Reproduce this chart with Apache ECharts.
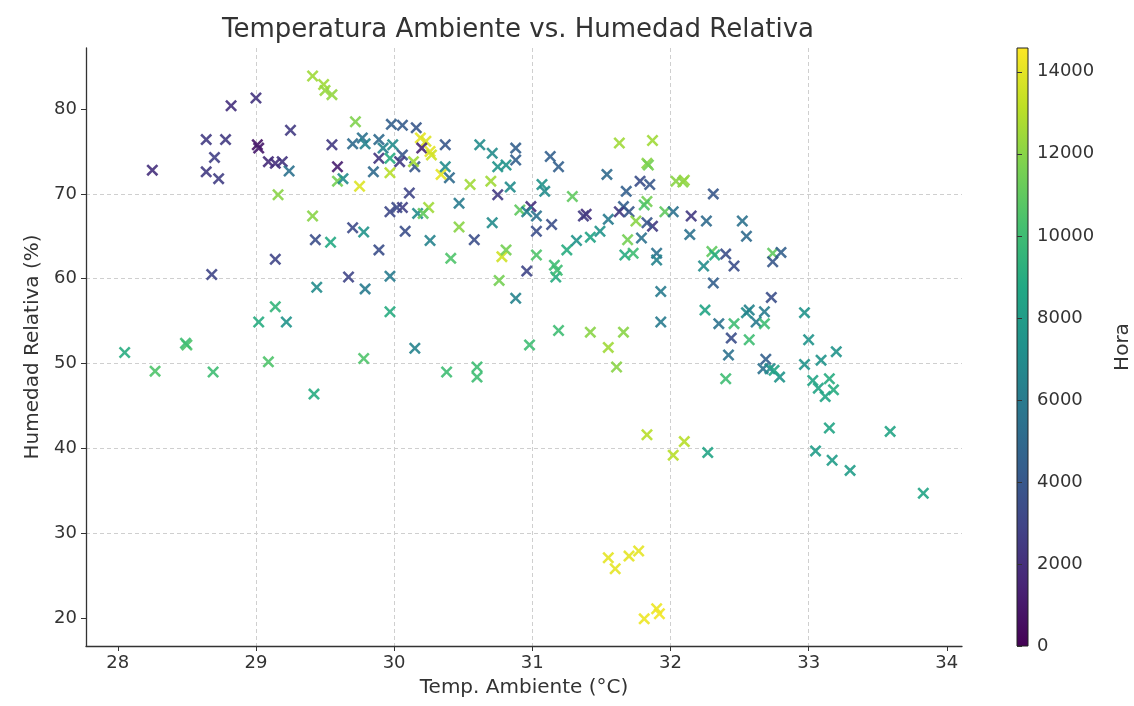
<!DOCTYPE html>
<html>
<head>
<meta charset="utf-8">
<script src="https://cdn.jsdelivr.net/npm/echarts@6/dist/echarts.min.js"></script>
<style>html,body{margin:0;padding:0;background:#fff}#c{width:1134px;height:706px}</style>
</head>
<body>
<div id="c"></div>
<script>
// Temperatura ambiente (°C)
const temp = [
28.05,28.27,28.50,28.49,28.69,28.68,29.02,29.14,29.22,29.09,29.42,29.44,29.67,29.79,29.78,29.14,
28.25,28.64,28.78,28.70,28.64,28.73,28.82,29.00,29.01,29.02,29.09,29.14,29.19,29.25,29.24,29.16,
29.41,29.49,29.50,29.55,29.72,29.55,29.70,29.77,29.79,29.89,29.89,29.59,29.59,29.63,29.75,29.85,
29.41,29.43,29.54,29.70,29.78,29.89,
29.98,30.06,30.16,29.92,29.99,30.19,30.23,30.20,30.26,30.27,30.37,30.06,30.04,29.97,29.97,30.15,
30.14,30.34,30.37,30.40,30.55,30.62,30.71,30.75,30.81,30.88,30.88,30.70,30.84,30.75,30.11,29.97,
30.02,30.06,30.17,30.25,30.21,30.47,30.08,30.26,30.47,30.58,30.71,30.41,30.78,30.81,30.91,30.99,
30.96,31.03,31.03,31.14,31.07,31.09,31.13,31.19,31.29,30.96,31.03,31.16,31.25,31.32,31.39,31.37,
31.42,31.49,31.54,31.55,31.63,31.87,31.83,31.84,31.68,31.78,31.85,31.66,31.63,31.70,31.83,31.81,
31.75,31.87,31.83,31.96,32.02,32.04,31.69,31.79,31.67,31.73,31.90,31.90,
32.09,32.10,32.31,32.15,32.26,32.52,32.14,32.55,32.30,32.32,32.40,32.74,32.80,32.74,32.24,32.46,
32.31,32.73,32.25,32.35,32.46,32.55,32.57,32.62,32.68,32.68,32.44,32.57,32.42,32.40,32.69,32.67,
32.72,32.79,32.75,32.97,33.00,32.97,33.09,33.20,33.03,33.07,33.15,33.18,33.12,33.15,33.59,32.27,
33.05,33.17,33.30,33.83,
32.02,32.10,31.83,31.55,31.60,31.70,31.77,31.81,31.90,31.92,
29.97,29.97,30.15,30.38,30.60,30.60,30.76,30.88,31.17,31.19,30.98,31.42,31.66,31.55,31.61,31.93,
31.93,31.18
];
// Humedad relativa (%)
const humedad = [
51.3,49.1,52.2,52.4,49.0,60.5,54.9,56.7,54.9,50.2,46.4,59.0,60.2,58.8,50.6,62.3,
72.8,76.4,76.4,74.3,72.6,71.8,80.4,81.3,75.8,75.4,73.8,73.6,73.8,77.5,72.7,69.9,
83.9,82.9,82.2,81.7,78.5,75.8,75.9,76.6,75.9,76.4,74.2,73.2,71.5,71.8,70.9,72.6,
67.4,64.6,64.3,66.0,65.5,63.4,
78.2,78.1,77.8,75.4,75.8,76.6,76.2,75.4,75.0,74.6,75.8,74.6,73.8,74.2,72.5,73.2,
73.8,72.3,73.2,71.9,71.1,75.8,74.8,73.2,73.4,75.4,74.0,71.5,70.8,69.9,70.1,67.9,
68.4,68.4,67.7,68.4,67.7,68.9,65.6,64.5,66.1,64.6,66.6,62.4,62.6,63.4,68.1,68.5,
67.9,67.4,65.6,66.4,71.1,70.3,74.4,73.2,69.7,60.9,62.8,61.6,63.4,64.5,67.6,67.4,
64.9,65.6,72.3,67.0,76.0,76.3,73.6,73.4,70.3,71.5,71.1,68.5,67.9,67.9,69.1,68.7,
66.8,66.2,66.6,67.9,67.9,71.5,64.6,64.8,62.8,63.0,63.0,62.2,
71.4,71.6,70.0,67.4,66.8,66.8,65.2,65.0,63.2,62.8,62.9,63.0,63.1,62.0,61.5,61.5,
59.5,57.8,56.3,54.7,54.7,56.0,56.3,54.9,56.1,54.7,53.0,52.8,51.0,48.2,50.5,49.4,
49.4,48.4,49.2,56.0,52.8,49.9,50.4,51.4,48.0,47.1,48.2,46.9,46.1,42.4,42.0,39.5,
39.7,38.6,37.4,34.7,
39.2,40.8,41.6,27.1,25.8,27.3,27.9,19.9,21.1,20.5,
60.3,56.1,51.8,49.0,49.6,48.4,59.8,57.7,60.2,53.9,52.2,53.7,53.7,51.9,49.6,58.5,
54.9,61.0
];
// Hora
const hora = [
9000,10500,10500,10000,10000,3000,9000,9500,7500,10500,9000,7000,3000,6000,10500,3000,
2000,2500,2500,2800,2500,2700,2000,2200,800,1000,1800,2000,2200,2500,5500,12000,
12500,12500,12300,12200,11800,2500,5000,5500,6500,5000,2300,1200,11500,7000,13800,5000,
12000,3500,8800,3300,7500,3500,
4500,4200,4000,6500,7000,14000,13800,1500,14000,13500,4000,4000,2500,9000,13000,4000,
12500,14000,7000,5000,12500,7000,7000,7500,7500,4500,4500,12500,7000,2500,3000,3200,
3300,2800,7000,12500,11000,6000,3500,6500,12000,3500,7000,10500,13500,11500,11000,2000,
6500,5500,3500,3500,7500,7000,4500,4500,11000,3000,10500,10000,9000,7500,2000,2500,
8500,7500,5000,6000,12500,12500,12000,11500,4500,3500,4000,4500,2500,4000,11500,10500,
12000,2500,4000,11000,5500,12000,11500,5500,9000,10000,5500,6500,
12000,12200,4000,2500,5000,5500,5500,5000,11000,9000,3500,11000,4500,4000,7000,3500,
4500,3500,8500,5500,10000,7000,6500,6000,6000,10000,3500,10000,5500,10000,4500,5500,
7000,7500,8500,7500,7500,7500,7500,7500,8500,8500,9000,9000,8500,8500,8500,8500,
8000,8000,8000,8500,
13000,13000,13000,14000,14000,14000,14000,14200,14200,14300,
6000,9000,6500,10000,10000,10000,11500,6500,9000,10000,10000,12000,12000,12500,12000,6000,
6000,10000
];
const xTicks = [28, 29, 30, 31, 32, 33, 34];
const yTicks = [20, 30, 40, 50, 60, 70, 80];
const cbTicks = [0, 2000, 4000, 6000, 8000, 10000, 12000, 14000];
const horaMax = 14580;

const viridis = ['#440154','#482475','#414487','#355f8d','#2a788e','#21918c','#22a884','#44bf70','#7ad151','#bddf26','#fde725'];
const FONT = 'DejaVu Sans';
const TXT = '#333333';
const TICK_FS = 18;
const NAME_FS = 20;

const data = temp.map((t, i) => [t, humedad[i], hora[i]]);
const xSym = 'path://M1.5,0 L5,3.5 L8.5,0 L10,1.5 L6.5,5 L10,8.5 L8.5,10 L5,6.5 L1.5,10 L0,8.5 L3.5,5 L0,1.5 Z';
const plain = v => String(v);
// colour bar: same viridis ramp, bottom (0) to top (max)
const barGradient = new echarts.graphic.LinearGradient(0, 1, 0, 0,
  viridis.map((c, i) => ({offset: i / (viridis.length - 1), color: c})));

const chart = echarts.init(document.getElementById('c'), null, {renderer: 'canvas'});
chart.setOption({
  backgroundColor: '#ffffff',
  animation: false,
  title: {
    text: 'Temperatura Ambiente vs. Humedad Relativa',
    left: 217, top: 12,
    textStyle: {fontFamily: FONT, fontSize: 26, fontWeight: 'normal', color: TXT}
  },
  grid: [
    {left: 86, top: 48, width: 876, height: 598, containLabel: false},
    {left: 1017, top: 48, width: 30, height: 598, show: true,
     backgroundColor: barGradient, borderColor: '#222', borderWidth: 1}
  ],
  xAxis: [
    {type: 'value', gridIndex: 0, min: 27.77, max: 34.11, splitNumber: 6, minInterval: 1, maxInterval: 1,
     name: 'Temp. Ambiente (°C)', nameLocation: 'middle', nameGap: 32,
     nameTextStyle: {fontFamily: FONT, fontSize: NAME_FS, color: TXT},
     axisLine: {show: true, onZero: false, lineStyle: {color: '#333', width: 1.3}},
     axisTick: {show: true, length: 5, customValues: xTicks, lineStyle: {color: '#333'}},
     axisLabel: {fontFamily: FONT, fontSize: TICK_FS, color: TXT, margin: 8, customValues: xTicks, formatter: plain},
     splitLine: {show: true, showMinLine: false, showMaxLine: false, lineStyle: {color: '#cfcfcf', type: [4, 3], width: 1}}},
    {type: 'value', gridIndex: 1, min: 0, max: 1, show: false}
  ],
  yAxis: [
    {type: 'value', gridIndex: 0, min: 16.7, max: 87.2, splitNumber: 7, minInterval: 10, maxInterval: 10,
     name: 'Humedad Relativa (%)', nameLocation: 'middle', nameGap: 38,
     nameTextStyle: {fontFamily: FONT, fontSize: NAME_FS, color: TXT},
     axisLine: {show: true, onZero: false, lineStyle: {color: '#333', width: 1.3}},
     axisTick: {show: true, length: 5, customValues: yTicks, lineStyle: {color: '#333'}},
     axisLabel: {fontFamily: FONT, fontSize: TICK_FS, color: TXT, margin: 9, customValues: yTicks, formatter: plain},
     splitLine: {show: true, showMinLine: false, showMaxLine: false, lineStyle: {color: '#cfcfcf', type: [4, 3], width: 1}}},
    {type: 'value', gridIndex: 1, position: 'right', min: 0, max: horaMax, splitNumber: 7, minInterval: 2000, maxInterval: 2000,
     name: 'Hora', nameLocation: 'middle', nameGap: 85,
     nameTextStyle: {fontFamily: FONT, fontSize: NAME_FS, color: TXT},
     axisLine: {show: false},
     axisTick: {show: true, length: 5, customValues: cbTicks, lineStyle: {color: '#333'}},
     axisLabel: {fontFamily: FONT, fontSize: TICK_FS, color: TXT, margin: 9, customValues: cbTicks, formatter: plain},
     splitLine: {show: false}}
  ],
  visualMap: {
    type: 'continuous', show: false, min: 0, max: horaMax, dimension: 2, seriesIndex: 0,
    inRange: {color: viridis}
  },
  series: [{
    type: 'scatter', xAxisIndex: 0, yAxisIndex: 0,
    symbol: xSym, symbolSize: 12,
    itemStyle: {opacity: 0.9},
    data: data
  }]
});
</script>
</body>
</html>
